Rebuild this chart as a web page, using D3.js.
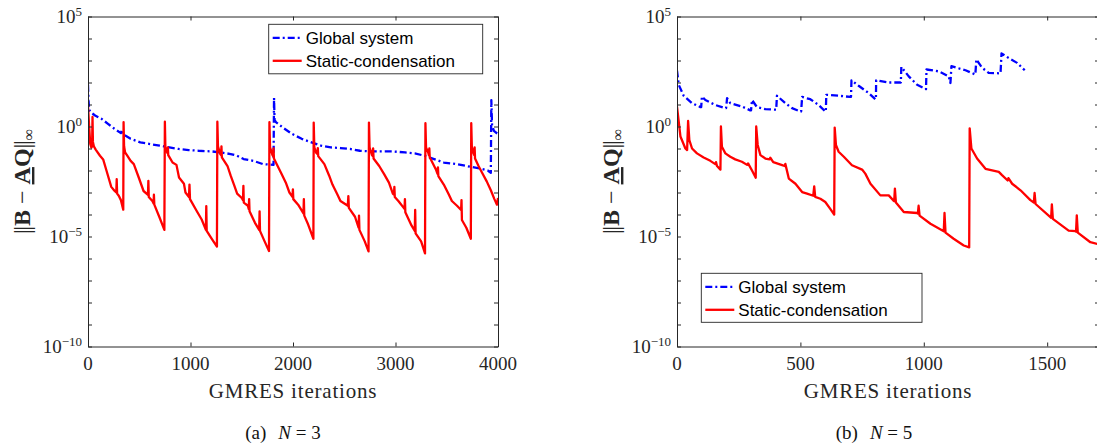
<!DOCTYPE html>
<html>
<head>
<meta charset="utf-8">
<script src="https://cdn.jsdelivr.net/npm/d3@7"></script>
<style>
  html, body { margin: 0; padding: 0; background: #fff; }
  svg { display: block; }
</style>
</head>
<body>
<svg id="fig" width="1097" height="445"></svg>
<script>
// Residual history ||B - AQ||_inf against GMRES iteration count, [iteration, residual]

// (a) N = 3, global system
const globalN3 = [
  [0,79],[5,15.8],[12,5.6],[40,4.0],[69,3.16],[132,2.24],[195,1.32],[258,0.79],[321,0.5],[333,0.71],[340,0.45],
  [416,0.275],[510,0.19],[605,0.16],[699,0.135],[794,0.112],[888,0.095],[983,0.085],[1077,0.079],[1203,0.074],
  [1298,0.066],[1392,0.056],[1455,0.047],[1518,0.033],[1613,0.0275],[1707,0.0195],[1810,0.018],[1815,20],[1820,2.0],
  [1833,1.58],[1896,0.93],[1991,0.46],[2085,0.275],[2180,0.19],[2274,0.135],[2369,0.112],[2463,0.105],[2558,0.095],
  [2652,0.079],[2747,0.074],[2841,0.074],[2967,0.074],[3093,0.066],[3188,0.06],[3282,0.047],[3377,0.033],[3471,0.023],
  [3597,0.0195],[3692,0.016],[3818,0.0126],[3900,0.01],[3930,7.9e-3],[3935,15.8],[3942,1.12],[3960,0.63],[4000,0.45]
];

// (a) N = 3, static condensation
const staticN3 = [
  [0,8.9],[10,1.26],[22,0.16],[33,0.11],[40,0.126],[44,2.7],[48,0.2],[57,0.126],[75,0.089],[117,0.047],[148,0.032],
  [180,0.010],[227,1.8e-3],[258,1.2e-3],[276,1.0e-3],[280,4.0e-3],[284,8.9e-4],[300,7.1e-4],[321,4.5e-4],[344,1.66e-4],
  [347,1.58],[352,0.126],[362,0.066],[380,0.05],[416,0.0275],[447,0.0195],[495,4.8e-3],[542,1.17e-3],[585,7.9e-4],
  [589,3.4e-3],[593,6.3e-4],[630,4.0e-4],[640,3.2e-4],[643,7.9e-4],[647,2.8e-4],[699,7.1e-5],[745,2.0e-5],
  [750,1.66],[755,0.112],[770,0.071],[775,0.063],[779,0.112],[783,0.05],[825,0.023],[863,0.018],[888,4.8e-3],
  [936,2.5e-3],[951,1.0e-3],[985,6.3e-4],[990,2.3e-3],[995,5.0e-4],[1062,1.4e-4],[1109,5.9e-5],[1150,2.0e-5],
  [1154,2.4e-4],[1158,1.8e-5],[1203,8.5e-6],[1258,3.5e-6],
  [1262,1.66],[1268,0.126],[1290,0.056],[1298,0.05],[1302,0.126],[1306,0.04],[1361,0.016],[1392,5.8e-3],[1424,2.3e-3],
  [1455,8.9e-4],[1500,5.6e-4],[1512,4.5e-4],[1516,2.0e-3],[1520,3.5e-4],[1560,2.5e-4],[1568,1.8e-4],[1572,5.0e-4],
  [1576,1.4e-4],[1629,4.2e-5],[1670,2.0e-5],[1674,1.4e-4],[1678,1.8e-5],[1723,6.0e-6],[1766,2.2e-6],
  [1770,1.58],[1776,0.112],[1800,0.05],[1806,0.045],[1810,0.1],[1814,0.035],[1850,0.016],[1890,6.8e-3],[1930,2.8e-3],
  [1965,1.0e-3],[1995,6.3e-4],[1999,1.4e-3],[2003,5.0e-4],[2050,2.8e-4],[2102,1.12e-4],[2106,5.0e-4],[2110,8.9e-5],
  [2148,3.5e-5],[2199,7.9e-6],
  [2202,1.5],[2208,0.112],[2227,0.063],[2238,0.056],[2242,0.105],[2246,0.045],[2306,0.0195],[2353,5.8e-3],[2385,2.3e-3],
  [2432,8.3e-4],[2463,4.1e-4],[2535,2.5e-4],[2540,6.9e-4],[2545,2.0e-4],[2605,7.9e-5],[2640,2.5e-5],[2644,8.9e-5],
  [2648,2.0e-5],[2700,6.0e-6],[2737,2.1e-6],
  [2741,1.5],[2747,0.112],[2770,0.05],[2778,0.045],[2782,0.1],[2786,0.035],[2841,0.016],[2889,6.8e-3],[2936,2.8e-3],
  [2974,8.9e-4],[2985,7.9e-4],[2989,1.8e-3],[2993,6.3e-4],[3030,4.0e-4],[3088,1.8e-4],[3092,5.0e-4],[3096,1.26e-4],
  [3156,3.2e-5],[3188,1.8e-5],[3192,1.6e-4],[3196,1.4e-5],[3250,6.0e-6],[3288,1.7e-6],
  [3292,1.41],[3298,0.112],[3320,0.063],[3326,0.05],[3330,0.1],[3334,0.04],[3393,0.0115],[3410,7.1e-3],[3414,0.014],
  [3418,5.6e-3],[3471,2.3e-3],[3519,8.3e-4],[3550,4.1e-4],[3600,2.5e-4],[3640,1.6e-4],[3644,4.5e-4],[3648,5.6e-5],
  [3691,2.5e-5],[3735,7.9e-6],
  [3739,1.41],[3745,0.112],[3760,0.063],[3768,0.05],[3772,0.112],[3776,0.035],[3810,0.016],[3850,7.1e-3],[3890,3.2e-3],
  [3930,1.26e-3],[3965,5.0e-4],[3990,2.8e-4],[4000,5.6e-4]
];

// (b) N = 5, global system
const globalN5 = [
  [0,350],[7,79],[27,25],[61,11.5],[95,7.6],[98,7.6],[101,23],[115,16],[155,9.5],[196,6.8],[199,6.8],[203,19.5],
  [216,11.5],[263,8.1],[297,5.4],[300,5.4],[304,16],[324,7.6],[358,6.2],[399,5.8],[402,5.8],[405,25],[439,11.5],
  [466,6.8],[500,4.8],[503,4.8],[507,22],[540,17.4],[574,9.5],[601,4.8],[603,4.8],[605,27.5],[655,25],[703,22],
  [705,22],[707,126],[736,71],[777,33],[804,17.4],[806,17.4],[807,126],[858,100],[905,100],[907,100],[909,510],
  [939,190],[973,79],[1009,50],[1011,390],[1061,320],[1101,190],[1108,95],[1112,550],[1169,360],[1209,230],
  [1213,1120],[1236,470],[1263,275],[1311,260],[1315,2100],[1344,1300],[1378,780],[1409,360]
];

// (b) N = 5, static condensation
const staticN5 = [
  [0,8.1],[14,0.35],[34,0.1],[41,0.085],[45,1.78],[50,0.24],[61,0.1],[81,0.06],[108,0.039],[135,0.0275],[155,0.0195],
  [158,0.024],[162,0.016],[176,0.011],[178,1.0],[182,0.12],[196,0.06],[216,0.042],[236,0.032],[263,0.025],[284,0.018],
  [288,0.021],[304,0.01],[319,4.7e-3],[321,1.0],[327,0.145],[338,0.05],[358,0.035],[375,0.032],[378,0.038],[390,0.024],
  [426,0.0174],[436,0.016],[439,0.02],[453,4.3e-3],[480,2.5e-3],[507,1.05e-3],[527,8.9e-4],[552,7.1e-4],[556,1.9e-3],
  [560,6.3e-4],[581,5.2e-4],[601,3.7e-4],[621,1.8e-4],[637,1.0e-4],[639,0.89],[644,0.145],[655,0.071],[676,0.042],
  [709,0.0174],[750,0.011],[763,7.2e-3],[784,2.5e-3],[824,7.4e-4],[858,7.4e-4],[876,4.4e-4],[880,4.0e-4],[883,1.5e-3],
  [887,3.5e-4],[919,1.3e-4],[973,1.17e-4],[976,1.1e-4],[979,2.5e-4],[983,8.9e-5],[1027,3.8e-5],[1081,1.74e-5],
  [1084,1.17e-4],[1088,1.5e-5],[1121,7.9e-6],[1162,3.9e-6],[1184,3.2e-6],[1186,0.83],[1193,0.1],[1216,0.035],
  [1250,0.012],[1304,8.7e-3],[1317,6.2e-3],[1340,3.5e-3],[1343,4.5e-3],[1358,2.5e-3],[1392,1.26e-3],[1432,4.5e-4],
  [1446,3.5e-4],[1449,9.5e-4],[1453,3.0e-4],[1513,7.6e-5],[1516,7.1e-5],[1519,2.9e-4],[1523,6.3e-5],[1587,1.86e-5],
  [1615,1.74e-5],[1617,1.66e-5],[1620,9.1e-5],[1624,1.5e-5],[1675,5.5e-6],[1710,4.4e-6]
];

// Axis ticks and labels
const xTicksN3 = [0, 1000, 2000, 3000, 4000];
const xTicksN5 = [0, 500, 1000, 1500];
const yTickDecades = [-10,-9,-8,-7,-6,-5,-4,-3,-2,-1,0,1,2,3,4,5];
const yLabelDecades = [5, 0, -5, -10];
const seriesNames = ["Global system", "Static-condensation"];
const xAxisTitle = "GMRES iterations";

const svg = d3.select("#fig");
svg.append("rect").attr("width", 1097).attr("height", 445).attr("fill", "#fff");

const AX = "#262626";
const SERIF = "'Liberation Serif','Times New Roman',serif";
const SANS = "'Liberation Sans',Arial,sans-serif";
const BLUE = "#0000ff", RED = "#ff0000";
const DASHDOT = "7,3,2,3";

function drawPanel(cfg) {
  const { left, right, top, bottom } = cfg.box;
  const x = d3.scaleLinear().domain([0, cfg.xMax]).range([left, right]);
  const y = d3.scaleLog().domain([1e-10, 1e5]).range([bottom, top]);
  const g = svg.append("g");

  const clipId = cfg.id + "-clip";
  g.append("clipPath").attr("id", clipId)
    .append("rect").attr("x", left).attr("y", top)
    .attr("width", right - left).attr("height", bottom - top);

  const line = d3.line().x(d => x(d[0])).y(d => y(d[1]));
  const plot = g.append("g").attr("clip-path", `url(#${clipId})`);
  plot.append("path").datum(cfg.global).attr("d", line)
    .attr("fill", "none").attr("stroke", BLUE).attr("stroke-width", 2.3)
    .attr("stroke-dasharray", DASHDOT).attr("stroke-linejoin", "round");
  plot.append("path").datum(cfg.stat).attr("d", line)
    .attr("fill", "none").attr("stroke", RED).attr("stroke-width", 2.3)
    .attr("stroke-linejoin", "round");

  // Boxed axes with inward ticks on all four sides
  const tk = 4;
  const yVals = yTickDecades.map(e => Math.pow(10, e));
  const style = sel => { sel.attr("color", AX); sel.selectAll("text").remove(); };
  g.append("g").attr("transform", `translate(0,${bottom})`)
    .call(d3.axisBottom(x).tickValues(cfg.xTicks).tickSizeInner(-tk).tickSizeOuter(0).tickFormat(""))
    .call(style);
  g.append("g").attr("transform", `translate(0,${top})`)
    .call(d3.axisTop(x).tickValues(cfg.xTicks).tickSizeInner(-tk).tickSizeOuter(0).tickFormat(""))
    .call(style);
  g.append("g").attr("transform", `translate(${left},0)`)
    .call(d3.axisLeft(y).tickValues(yVals).tickSizeInner(-tk).tickSizeOuter(0).tickFormat(""))
    .call(style);
  g.append("g").attr("transform", `translate(${right},0)`)
    .call(d3.axisRight(y).tickValues(yVals).tickSizeInner(-tk).tickSizeOuter(0).tickFormat(""))
    .call(style);

  // x tick labels
  g.selectAll("text.xt").data(cfg.xTicks).enter().append("text")
    .attr("class", "xt")
    .attr("x", d => x(d)).attr("y", bottom + 23.5)
    .attr("text-anchor", "middle")
    .attr("font-family", SERIF).attr("font-size", 19).attr("fill", AX)
    .text(d => d);

  // y tick labels as powers of ten
  const yl = g.selectAll("text.yt").data(yLabelDecades).enter().append("text")
    .attr("class", "yt")
    .attr("x", left - 6).attr("y", d => y(Math.pow(10, d)) + 6.5)
    .attr("text-anchor", "end")
    .attr("font-family", SERIF).attr("font-size", 19).attr("fill", AX);
  yl.append("tspan").text("10");
  yl.append("tspan").attr("dy", -7.5).attr("font-size", 13)
    .text(d => d < 0 ? "\u2212" + (-d) : String(d));

  // x axis title
  g.append("text")
    .attr("x", (left + right) / 2).attr("y", 398)
    .attr("text-anchor", "middle")
    .attr("font-family", SERIF).attr("font-size", 21).attr("letter-spacing", 0.8)
    .attr("fill", AX).text(xAxisTitle);

  // y axis title: ||B - A Q||_inf, the norm bars as a pair of tall vertical strokes
  const yt = g.append("text")
    .attr("transform", `translate(${left - 58},${(top + bottom) / 2}) rotate(-90)`)
    .attr("text-anchor", "middle")
    .attr("font-family", SERIF).attr("font-size", 24).attr("fill", AX);
  yt.append("tspan").attr("letter-spacing", -1.5).text("||");
  yt.append("tspan").attr("dx", 1.5).attr("font-weight", "bold").text("B");
  yt.append("tspan").text(" \u2212 ");
  yt.append("tspan").attr("font-weight", "bold").attr("text-decoration", "underline").text("A");
  yt.append("tspan").attr("font-weight", "bold").text("Q");
  yt.append("tspan").attr("letter-spacing", -1.5).text("||");
  yt.append("tspan").attr("dx", 1.5).attr("font-size", 16).attr("dy", 4).text("\u221e");

  // legend
  const L = cfg.legend;
  const lg = g.append("g");
  lg.append("rect").attr("x", L.x).attr("y", L.y).attr("width", L.w).attr("height", L.h)
    .attr("fill", "#fff").attr("stroke", AX).attr("stroke-width", 0.9);
  const rows = [
    { name: seriesNames[0], color: BLUE, dash: DASHDOT, dy: 13.5 },
    { name: seriesNames[1], color: RED, dash: null, dy: 36.5 }
  ];
  rows.forEach(r => {
    const cy = L.y + r.dy;
    lg.append("line").attr("x1", L.x + 4).attr("x2", L.x + 33).attr("y1", cy).attr("y2", cy)
      .attr("stroke", r.color).attr("stroke-width", 2.3)
      .attr("stroke-dasharray", r.dash);
    lg.append("text").attr("x", L.x + 37).attr("y", cy + 6)
      .attr("font-family", SANS).attr("font-size", 17).attr("fill", "#000")
      .text(r.name);
  });

  // sub-figure caption
  const cap = g.append("text")
    .attr("x", cfg.captionX).attr("y", 439)
    .attr("text-anchor", "middle")
    .attr("font-family", SERIF).attr("font-size", 19).attr("fill", "#111");
  cap.append("tspan").text(cfg.caption[0]);
  cap.append("tspan").attr("dx", 12).attr("font-style", "italic").text("N");
  cap.append("tspan").text(" = " + cfg.caption[1]);
}

drawPanel({
  id: "n3",
  box: { left: 88, right: 498, top: 16.5, bottom: 346.5 },
  xMax: 4000, xTicks: xTicksN3,
  global: globalN3, stat: staticN3,
  legend: { x: 268.7, y: 24.3, w: 214, h: 49.5 },
  caption: ["(a)", "3"], captionX: 283
});

drawPanel({
  id: "n5",
  box: { left: 677, right: 1099, top: 16.5, bottom: 346.5 },
  xMax: 1710, xTicks: xTicksN5,
  global: globalN5, stat: staticN5,
  legend: { x: 701.3, y: 273.3, w: 220.7, h: 49 },
  caption: ["(b)", "5"], captionX: 874
});
</script>
</body>
</html>
